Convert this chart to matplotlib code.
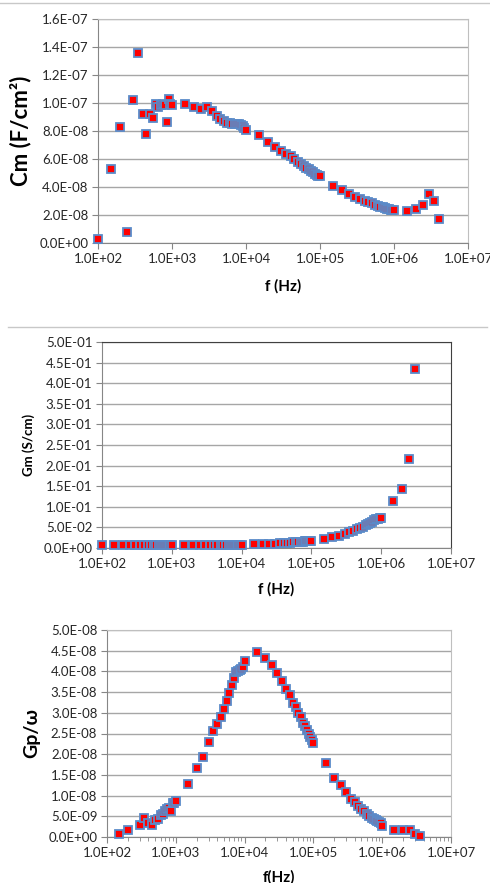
import matplotlib
matplotlib.use("Agg")
import matplotlib.pyplot as plt
import matplotlib.ticker as mticker
from matplotlib.lines import Line2D

plt.rcParams['font.family'] = ['Lato', 'DejaVu Sans']

# частоты (Гц)
freq_cm = [100, 150, 200, 250, 300, 350, 400, 450, 500, 550, 600, 650, 700, 750, 800, 850, 900, 950, 1000,
           1500, 2000, 2500, 3000, 3500, 4000, 4500, 5000, 5500, 6000, 6500, 7000, 7500, 8000, 8500, 9000, 9500, 10000,
           15000, 20000, 25000, 30000, 35000, 40000, 45000, 50000, 55000, 60000, 65000, 70000, 75000, 80000, 85000,
           90000, 95000, 100000,
           150000, 200000, 250000, 300000, 350000, 400000, 450000, 500000, 550000, 600000, 650000, 700000, 750000,
           800000, 850000, 900000, 950000, 1000000,
           1500000, 2000000, 2500000, 3000000, 3500000, 4000000]

# Cm, 1e-8 F/cm2
cm_vals = [0.31, 5.32, 8.26, 0.76, 10.2, 13.6, 9.24, 7.78, 9.24, 8.9, 9.93, 9.7, 9.85, 9.9, 9.85, 8.64, 10.26, 9.9, 9.85,
           9.93, 9.74, 9.55, 9.7, 9.45, 9.05, 8.85, 8.7, 8.6, 8.57, 8.52, 8.5, 8.47, 8.47, 8.45, 8.33, 8.2, 8.1,
           7.7, 7.2, 6.87, 6.59, 6.37, 6.18, 5.99, 5.82, 5.66, 5.51, 5.37, 5.25, 5.15, 5.06, 4.96, 4.89, 4.82, 4.8,
           4.1, 3.82, 3.53, 3.32, 3.15, 3.03, 2.94, 2.84, 2.74, 2.67, 2.6, 2.55, 2.5, 2.46, 2.41, 2.39, 2.36, 2.34,
           2.31, 2.41, 2.7, 3.48, 2.98, 1.72]

freq_gm = [100, 150, 200, 250, 300, 350, 400, 450, 500, 550, 600, 650, 700, 750, 800, 850, 900, 950, 1000,
           1500, 2000, 2500, 3000, 3500, 4000, 4500, 5000, 5500, 6000, 6500, 7000, 7500, 8000, 8500, 9000, 9500, 10000,
           15000, 20000, 25000, 30000, 35000, 40000, 45000, 50000, 55000, 60000, 65000, 70000, 75000, 80000, 85000,
           90000, 95000, 100000,
           150000, 200000, 250000, 300000, 350000, 400000, 450000, 500000, 550000, 600000, 650000, 700000, 750000,
           800000, 850000, 900000, 950000, 1000000,
           1500000, 2000000, 2500000, 3000000]

# Gm, S/cm
gm_vals = [0.0068, 0.0068, 0.0068, 0.0068, 0.0068, 0.0068, 0.0068, 0.0068, 0.0068, 0.0068, 0.0068, 0.0068, 0.0068,
           0.0068, 0.0068, 0.0068, 0.0068, 0.0068, 0.0069,
           0.0069, 0.0069, 0.007, 0.007, 0.007, 0.0071, 0.0071, 0.0072, 0.0073, 0.0074, 0.0075, 0.0076, 0.0077,
           0.0078, 0.0079, 0.008, 0.008, 0.0081,
           0.0085, 0.0095, 0.0102, 0.0108, 0.0114, 0.012, 0.0126, 0.0131, 0.0136, 0.0141, 0.0146, 0.015, 0.0155,
           0.0159, 0.0163, 0.0167, 0.0171, 0.0175,
           0.022, 0.026, 0.030, 0.035, 0.039, 0.042, 0.045, 0.048, 0.051, 0.055, 0.058, 0.061, 0.064, 0.067, 0.070,
           0.0716, 0.073, 0.074,
           0.113, 0.142, 0.217, 0.434]

freq_gp = [150, 200, 300, 350, 400, 450, 500, 550, 600, 650, 700, 750, 800, 850, 900, 950, 1000,
           1500, 2000, 2500, 3000, 3500, 4000, 4500, 5000, 5500, 6000, 6500, 7000, 7500, 8000, 8500, 9000, 9500, 10000,
           15000, 20000, 25000, 30000, 35000, 40000, 45000, 50000, 55000, 60000, 65000, 70000, 75000, 80000, 85000,
           90000, 95000, 100000,
           150000, 200000, 250000, 300000, 350000, 400000, 450000, 500000, 550000, 600000, 650000, 700000, 750000,
           800000, 850000, 900000, 950000, 1000000,
           1500000, 2000000, 2500000, 3000000, 3500000]

# Gp/w, 1e-9
gp_vals = [0.64, 1.6, 2.9, 4.6, 3.3, 3.0, 4.2, 4.3, 5.3, 5.6, 6.3, 6.8, 7.0, 6.3, 8.1, 8.2, 8.8,
           12.9, 16.6, 19.4, 22.9, 25.6, 27.3, 29.1, 31.0, 32.9, 34.7, 36.7, 38.5, 39.8, 40.0, 40.4, 40.6, 41.0, 42.6,
           44.8, 43.2, 41.6, 39.6, 37.6, 35.8, 34.2, 32.3, 31.3, 29.9, 28.9, 27.6, 26.7, 25.8, 24.9, 24.1, 23.5, 22.7,
           17.8, 14.3, 12.5, 10.9, 9.2, 8.4, 7.4, 6.8, 6.2, 5.6, 5.1, 4.7, 4.3, 4.1, 3.9, 3.6, 3.4, 2.7,
           1.6, 1.8, 1.6, 0.7, 0.16]

W, H = 490, 883
fig = plt.figure(figsize=(W / 100, H / 100), dpi=100)


def ax_rect(l, r, t, b):
    return [l / W, 1 - b / H, (r - l) / W, (b - t) / H]


def sci(v, pos):
    return "%.1E" % v


def style(ax, ymax, ystep, spine_col, minor=False):
    ax.set_xscale('log')
    ax.set_xlim(1e2, 1e7)
    ax.set_ylim(0, ymax)
    ax.set_yticks([i * ystep for i in range(int(round(ymax / ystep)) + 1)])
    ax.yaxis.set_major_formatter(mticker.FuncFormatter(sci))
    ax.xaxis.set_major_locator(mticker.LogLocator(base=10, numticks=10))
    ax.xaxis.set_major_formatter(mticker.FuncFormatter(sci))
    if minor:
        ax.xaxis.set_minor_locator(mticker.LogLocator(base=10, subs=range(2, 10), numticks=20))
        ax.tick_params(axis='x', which='minor', length=3, color='#868686', direction='out')
    else:
        ax.xaxis.set_minor_locator(mticker.NullLocator())
    ax.grid(axis='y', color='#A6A6A6', linewidth=1)
    ax.set_axisbelow(True)
    for s in ax.spines.values():
        s.set_color(spine_col)
    ax.spines['left'].set_color('#868686')
    ax.spines['bottom'].set_color('#868686')
    ax.tick_params(axis='both', which='major', length=4, color='#868686', labelsize=9.5,
                   labelcolor='#262626', pad=3)


mk = dict(marker='s', linestyle='none', ms=5.6, mfc='red', mec='#5B8BC9', mew=1.3)

# --- Cm ---
ax1 = fig.add_axes(ax_rect(98, 468, 19, 243))
ax1.plot(freq_cm, [v * 1e-8 for v in cm_vals], **mk, clip_on=False, zorder=3)
style(ax1, 1.6e-7, 2e-8, '#BFBFBF')
ax1.set_ylabel('Cm (F/cm²)', fontsize=16, fontweight='bold', labelpad=6)
ax1.set_xlabel('f (Hz)', fontsize=11, fontweight='bold', labelpad=10)

# --- Gm ---
ax2 = fig.add_axes(ax_rect(102, 451, 342, 548))
ax2.plot(freq_gm, gm_vals, **mk, clip_on=False, zorder=3)
style(ax2, 0.5, 0.05, '#404040')
ax2.set_ylabel('Gm (S/cm)', fontsize=9.5, fontweight='bold', labelpad=6)
ax2.set_xlabel('f (Hz)', fontsize=11, fontweight='bold', labelpad=9)

# --- Gp/w ---
ax3 = fig.add_axes(ax_rect(107, 451, 630, 837))
ax3.plot(freq_gp, [v * 1e-9 for v in gp_vals], **mk, clip_on=False, zorder=3)
style(ax3, 5e-8, 5e-9, '#BFBFBF', minor=True)
ax3.set_ylabel('Gp/ω', fontsize=14, fontweight='bold', labelpad=6)
ax3.set_xlabel('f(Hz)', fontsize=11, fontweight='bold', labelpad=8)

# разделительные линии
fig.add_artist(Line2D([0, 1], [1 - 3 / H, 1 - 3 / H], transform=fig.transFigure, color='#C8C8C8', lw=1))
fig.add_artist(Line2D([8 / W, 487 / W], [1 - 327 / H, 1 - 327 / H], transform=fig.transFigure,
                      color='#C8C8C8', lw=1))

fig.savefig('out.png', dpi=100)
